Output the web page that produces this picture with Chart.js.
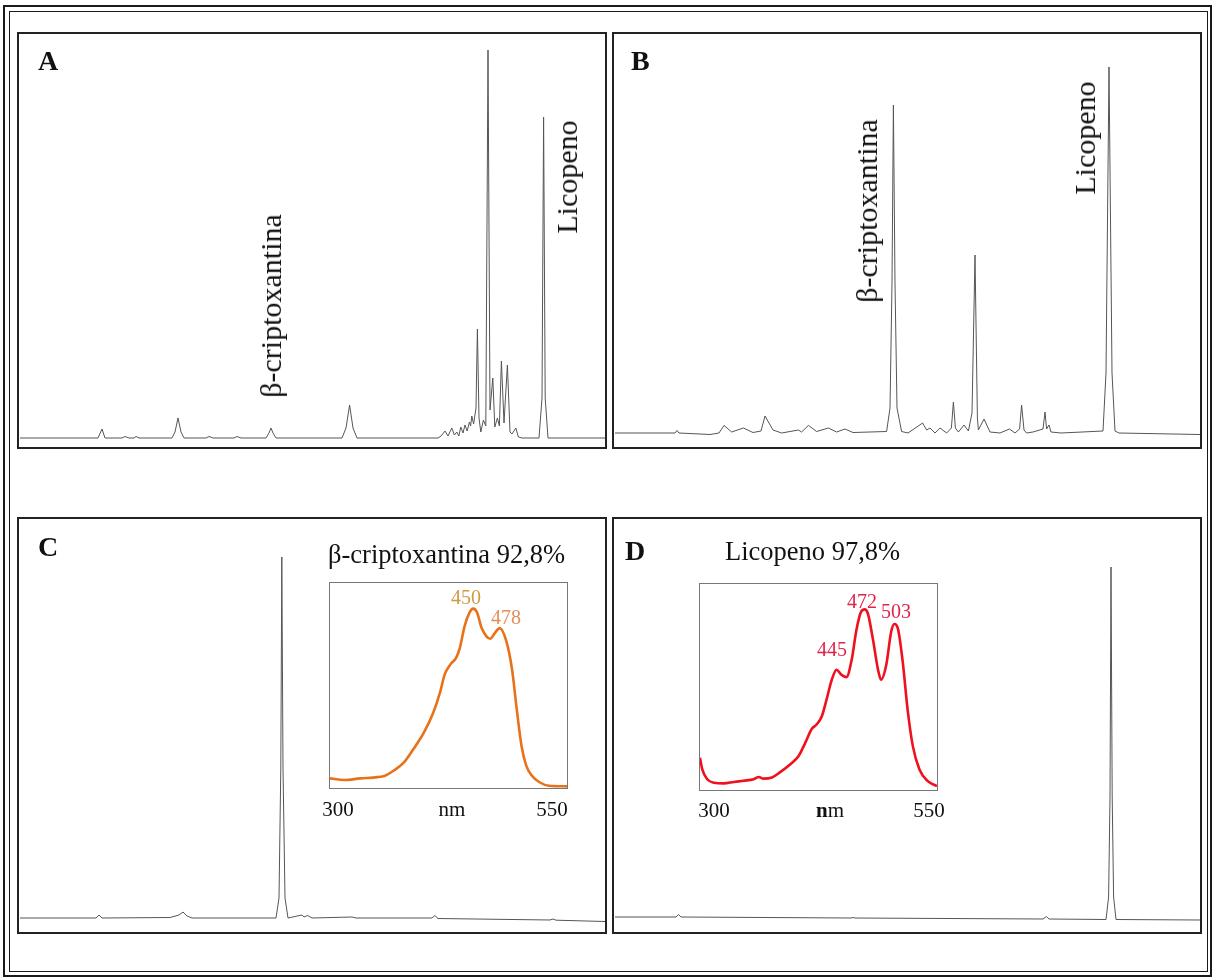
<!DOCTYPE html>
<html><head><meta charset="utf-8">
<script src="https://cdn.jsdelivr.net/npm/chart.js@4.4.0/dist/chart.umd.min.js"></script>
<style>
html,body{margin:0;padding:0;background:#fff;}
body{width:1214px;height:978px;position:relative;overflow:hidden;font-family:"Liberation Serif","Times New Roman",serif;color:#111;}
.frame{position:absolute;box-sizing:border-box;border:2px solid #1a1a1a;}
.panel{position:absolute;box-sizing:border-box;border:2px solid #222;width:590px;height:417px;}
.inset{position:absolute;box-sizing:border-box;border:1px solid #777;background:#fff;}
canvas{position:absolute;display:block;}
.t{position:absolute;white-space:nowrap;line-height:1;}
.bold{font-weight:bold;font-size:28px;}
.title{font-size:26.5px;}
.rot{position:absolute;white-space:nowrap;line-height:1;font-size:30px;transform:translate(-50%,-50%) rotate(-90deg);}
.c{position:absolute;white-space:nowrap;line-height:1;transform:translate(-50%,-50%);}
.pk{font-size:20px;}
.tk{font-size:21px;}
</style>
</head>
<body>
<script>
// ---------- DATA ----------
// Chromatogram A (retention time, min ; absorbance, mAU)
const tA = [0,3.9,4.1,4.25,5.1,5.25,5.45,5.7,5.8,5.95,7.6,7.75,7.9,8.05,8.2,9.3,9.45,9.65,10.7,10.85,11.05,12.3,12.45,12.55,12.65,12.8,16.1,16.3,16.48,16.65,16.85,20.9,21.05,21.25,21.4,21.59,21.72,21.84,21.94,22.04,22.15,22.25,22.36,22.47,22.53,22.59,22.68,22.8,22.87,22.95,23.04,23.17,23.29,23.4,23.5,23.64,23.74,23.87,23.97,24.07,24.2,24.37,24.5,24.6,24.79,24.92,25.1,25.95,26.1,26.18,26.26,26.4,29.25];
const hA = [0,0,9,0,0,1.5,0,0,1.5,0,0,6,20,6,0,0,1.5,0,0,1.5,0,0,5,10,5,0,0,10,33,10,0,0,2,7,2,10,3,6,2,11,5,13,7,16,12,22,14,30,109,20,6,18,12,388,28,60,11,20,12,77,15,73,6,4,10,1,0,0,40,321,40,0,0];
// Chromatogram B
const tB = [0,3.0,3.1,3.2,4.75,5.2,5.45,5.83,6.42,6.9,7.3,7.5,7.9,8.33,9.17,9.33,9.67,10.08,10.67,11.08,11.5,11.9,13.58,13.75,13.85,13.92,14.0,14.1,14.33,14.65,15.38,15.58,15.75,16.0,16.25,16.58,16.82,16.92,17.02,17.17,17.45,17.67,17.85,18.0,18.12,18.17,18.45,18.75,19.25,19.72,20.0,20.23,20.33,20.45,20.58,20.9,21.4,21.5,21.58,21.7,21.8,22.3,24.4,24.55,24.7,24.85,25.0,25.2,29.25];
const hB = [0,0,2.6,0,-1.5,0,7.6,1,5,0.5,2,17,3,0,3,1,7.6,1.5,5,1,4,0.5,1.5,25,150,328,150,25,1.5,0,10,3,5,0,5,0,5,31,5,1,8,2,20,178,15,3,14,1,0,4,0,4,28,3,0,1,4,21,4,8,1,0,2,60,366,60,2,0,-1.5];
// Chromatogram C (purified beta-cryptoxanthin)
const tC = [0,3.8,3.95,4.1,7.5,7.95,8.15,8.35,8.6,12.8,12.95,13.04,13.09,13.15,13.25,13.4,14.1,14.2,14.38,14.6,16.6,16.8,20.6,20.74,20.9,26.5,26.65,26.8,29.25];
const hC = [0,0,3,0,0.5,3,6,2,0,0,20,150,361,150,20,0,3,1,2.5,0,1,0,0,2.5,-0.5,-2,-1,-2.2,-3.5];
// Chromatogram D (purified lycopene)
const tD = [0,3.05,3.17,3.3,11.8,11.9,12.0,21.4,21.57,21.7,24.55,24.68,24.75,24.8,24.86,24.93,25.05,29.25];
const hD = [0,0,2.5,0,-1,-0.5,-1,-2,0.5,-2,-2.5,20,120,350,120,20,-2.5,-3];

// UV-Vis spectra (wavelength nm ; relative absorbance)
const nmC  = [300,315,332,350,358,367,378,388,399,409,416,421,427,433,437,442,447,451,455,460,465,469,474,479,486,492,497,502,507,513,521,531,550];
const absC = [0.047,0.039,0.047,0.053,0.06,0.084,0.125,0.19,0.27,0.368,0.465,0.554,0.603,0.635,0.684,0.79,0.854,0.875,0.857,0.78,0.74,0.728,0.757,0.78,0.716,0.579,0.384,0.206,0.109,0.06,0.028,0.011,0.008];
const nmD  = [300,302.4,307.7,314.7,325,335.7,346,356.6,362,367,375.9,384.6,395,404,411,418,423,428.5,433.5,439,444,449,454.5,460,465,470,473.8,477,482.5,487.8,491,496.5,501.7,505,508.7,514,519,524.5,531.5,540,550];
const absD = [0.156,0.1,0.052,0.035,0.032,0.039,0.045,0.052,0.063,0.055,0.061,0.087,0.124,0.165,0.229,0.297,0.318,0.358,0.439,0.535,0.584,0.56,0.548,0.632,0.777,0.866,0.877,0.858,0.729,0.584,0.535,0.608,0.769,0.806,0.785,0.616,0.39,0.213,0.1,0.044,0.019];

const timeRange = [0, 29.25];
const waveRange = [300, 550];
const insetTicks = ['300', 'nm', '550'];
const peakLabelsC = ['450', '478'];
const peakLabelsD = ['445', '472', '503'];
</script>

<div class="frame" style="left:3px;top:5px;width:1209px;height:972px;"></div>
<div class="frame" style="left:9px;top:11px;width:1199px;height:961px;border-width:1.5px;"></div>

<div class="panel" style="left:17px;top:32px;"></div>
<div class="panel" style="left:612px;top:32px;"></div>
<div class="panel" style="left:17px;top:517px;"></div>
<div class="panel" style="left:612px;top:517px;"></div>

<canvas id="cA" width="585" height="413" style="left:20px;top:34px;"></canvas>
<canvas id="cB" width="585" height="413" style="left:615px;top:34px;"></canvas>
<canvas id="cC" width="585" height="413" style="left:20px;top:519px;"></canvas>
<canvas id="cD" width="585" height="413" style="left:615px;top:519px;"></canvas>

<div class="inset" style="left:329px;top:582px;width:239px;height:207px;"></div>
<canvas id="sC" width="237" height="205" style="left:330px;top:583px;"></canvas>
<div class="inset" style="left:699px;top:583px;width:239px;height:208px;"></div>
<canvas id="sD" width="237" height="206" style="left:700px;top:584px;"></canvas>

<div class="t bold" style="left:38px;top:47px;">A</div>
<div class="t bold" style="left:631px;top:47px;">B</div>
<div class="t bold" style="left:38px;top:533px;">C</div>
<div class="t bold" style="left:625px;top:537px;">D</div>

<div class="rot" style="left:271px;top:306px;">β-criptoxantina</div>
<div class="rot" style="left:567px;top:177px;">Licopeno</div>
<div class="rot" style="left:867px;top:211px;">β-criptoxantina</div>
<div class="rot" style="left:1085px;top:138px;">Licopeno</div>

<div class="t title" style="left:328px;top:541px;">β-criptoxantina 92,8%</div>
<div class="t title" style="left:725px;top:538px;">Licopeno 97,8%</div>

<div id="labels"></div>

<script>
function chrom(id, t, h, ymin, ymax) {
  new Chart(document.getElementById(id), {
    type: 'line',
    data: { datasets: [{ data: t.map((x, i) => ({ x: x, y: h[i] })), borderColor: '#555', borderWidth: 1, pointRadius: 0, tension: 0, fill: false }] },
    options: {
      responsive: false, animation: false, devicePixelRatio: 1, layout: { padding: 0 },
      plugins: { legend: { display: false }, tooltip: { enabled: false } },
      scales: {
        x: { type: 'linear', min: timeRange[0], max: timeRange[1], display: false },
        y: { type: 'linear', min: ymin, max: ymax, display: false }
      }
    }
  });
}
function spectrum(id, nm, ab, color) {
  new Chart(document.getElementById(id), {
    type: 'line',
    data: { datasets: [{ data: nm.map((x, i) => ({ x: x, y: ab[i] })), borderColor: color, borderWidth: 2.6, pointRadius: 0, cubicInterpolationMode: 'monotone', fill: false }] },
    options: {
      responsive: false, animation: false, devicePixelRatio: 1, layout: { padding: 0 },
      plugins: { legend: { display: false }, tooltip: { enabled: false } },
      scales: {
        x: { type: 'linear', min: waveRange[0], max: waveRange[1], display: false },
        y: { type: 'linear', min: 0, max: 1, display: false }
      }
    }
  });
}
chrom('cA', tA, hA, -9, 404);
chrom('cB', tB, hB, -14, 399);
chrom('cC', tC, hC, -14, 399);
chrom('cD', tD, hD, -15, 398);
spectrum('sC', nmC, absC, '#E8721A');
spectrum('sD', nmD, absD, '#F0101E');

// text labels of the insets
const L = document.getElementById('labels');
function lab(txt, x, y, cls, color, html) {
  const d = document.createElement('div');
  d.className = 'c ' + cls;
  d.style.left = x + 'px'; d.style.top = y + 'px';
  if (color) d.style.color = color;
  if (html) d.innerHTML = html; else d.textContent = txt;
  L.appendChild(d);
}
lab(peakLabelsC[0], 466, 597, 'pk', '#CF9A42');
lab(peakLabelsC[1], 506, 617, 'pk', '#E38F58');
lab(peakLabelsD[0], 832, 649, 'pk', '#E0234B');
lab(peakLabelsD[1], 862, 601, 'pk', '#E0234B');
lab(peakLabelsD[2], 896, 611, 'pk', '#E0234B');
lab(insetTicks[0], 338, 809, 'tk');
lab(insetTicks[1], 452, 809, 'tk');
lab(insetTicks[2], 552, 809, 'tk');
lab(insetTicks[0], 714, 810, 'tk');
lab(insetTicks[1], 830, 810, 'tk', null, '<b>' + insetTicks[1].charAt(0) + '</b>' + insetTicks[1].slice(1));
lab(insetTicks[2], 929, 810, 'tk');
</script>
</body></html>
